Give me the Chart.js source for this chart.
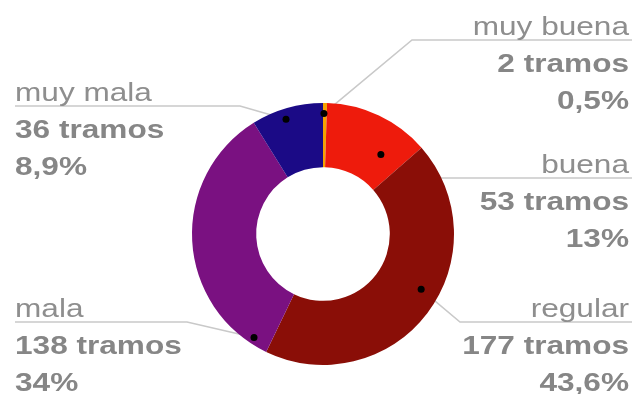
<!DOCTYPE html>
<html>
<head>
<meta charset="utf-8">
<script src="https://cdn.jsdelivr.net/npm/chart.js@4"></script>
<style>
  html, body { margin: 0; padding: 0; background: #fff; }
  #wrap { width: 640px; height: 394px; }
</style>
</head>
<body>
<div id="wrap"><canvas id="chart" width="640" height="394"></canvas></div>
<script>
// datos del gráfico
const categorias = ["muy buena", "buena", "regular", "mala", "muy mala"];
const tramos = [2, 53, 177, 138, 36];
const porcentajes = ["0,5%", "13%", "43,6%", "34%", "8,9%"];
const colores = ["#f4a300", "#ee1b0c", "#8a0e07", "#7a1181", "#1b0a86"];

// donde va cada etiqueta (lado, altura de la linea, quiebre) y el punto dentro del sector
const etiquetas = [
    { lado: "right", lineaY: 40,  quiebreX: 412, fAng: 0.25, fRad: 0.92 },
    { lado: "right", lineaY: 178, quiebreX: 413, fAng: 0.73, fRad: 0.75 },
    { lado: "right", lineaY: 322, quiebreX: 460, fAng: 0.45, fRad: 0.86 },
    { lado: "left",  lineaY: 322, quiebreX: 187, fAng: 0.065, fRad: 0.95 },
    { lado: "left",  lineaY: 106, quiebreX: 240, fAng: 0.44, fRad: 0.92 }
];

function puntoSector(arc, e) {
    const p = arc.getProps(["x", "y", "startAngle", "endAngle", "outerRadius"], true);
    const ang = p.startAngle + e.fAng * (p.endAngle - p.startAngle);
    const r = e.fRad * p.outerRadius;
    return { x: p.x + Math.cos(ang) * r, y: p.y + Math.sin(ang) * r };
}

const etiquetasPlugin = {
    id: "etiquetas",
    // lineas guia detras del anillo
    beforeDatasetsDraw(chart) {
        const ctx = chart.ctx;
        const meta = chart.getDatasetMeta(0);
        ctx.save();
        ctx.strokeStyle = "#c9c9c9";
        ctx.lineWidth = 1.6;
        meta.data.forEach((arc, i) => {
            const e = etiquetas[i];
            const pt = puntoSector(arc, e);
            const finX = e.lado === "right" ? 632 : 15;
            ctx.beginPath();
            ctx.moveTo(pt.x, pt.y);
            ctx.lineTo(e.quiebreX, e.lineaY);
            ctx.lineTo(finX, e.lineaY);
            ctx.stroke();
        });
        ctx.restore();
    },
    afterDatasetsDraw(chart) {
        const ctx = chart.ctx;
        const meta = chart.getDatasetMeta(0);
        const escala = 1.215;
        ctx.save();
        meta.data.forEach((arc, i) => {
            const e = etiquetas[i];
            // punto negro
            const pt = puntoSector(arc, e);
            ctx.fillStyle = "#000";
            ctx.beginPath();
            ctx.arc(pt.x, pt.y, 3.5, 0, Math.PI * 2);
            ctx.fill();

            // textos
            const x = e.lado === "right" ? 629 : 15;
            const lineas = [
                { txt: categorias[i], font: "26px 'Liberation Sans', Arial, sans-serif", color: "#8e8e8e", y: e.lineaY - 5 },
                { txt: tramos[i] + " tramos", font: "bold 26px 'Liberation Sans', Arial, sans-serif", color: "#868686", y: e.lineaY + 32 },
                { txt: porcentajes[i], font: "bold 26px 'Liberation Sans', Arial, sans-serif", color: "#868686", y: e.lineaY + 69 }
            ];
            lineas.forEach(l => {
                ctx.save();
                ctx.translate(x, l.y);
                ctx.scale(escala, 1);
                ctx.font = l.font;
                ctx.fillStyle = l.color;
                ctx.textAlign = e.lado === "right" ? "right" : "left";
                ctx.textBaseline = "alphabetic";
                ctx.fillText(l.txt, 0, 0);
                ctx.restore();
            });
        });
        ctx.restore();
    }
};

const ctx = document.getElementById("chart").getContext("2d");
new Chart(ctx, {
    type: "doughnut",
    data: {
        labels: categorias,
        datasets: [{
            data: tramos,
            backgroundColor: colores,
            borderWidth: 0
        }]
    },
    options: {
        responsive: false,
        animation: false,
        cutout: "51%",
        layout: { padding: { top: 103, bottom: 29, left: 192, right: 186 } },
        plugins: {
            legend: { display: false },
            tooltip: { enabled: false }
        }
    },
    plugins: [etiquetasPlugin]
});
</script>
</body>
</html>
